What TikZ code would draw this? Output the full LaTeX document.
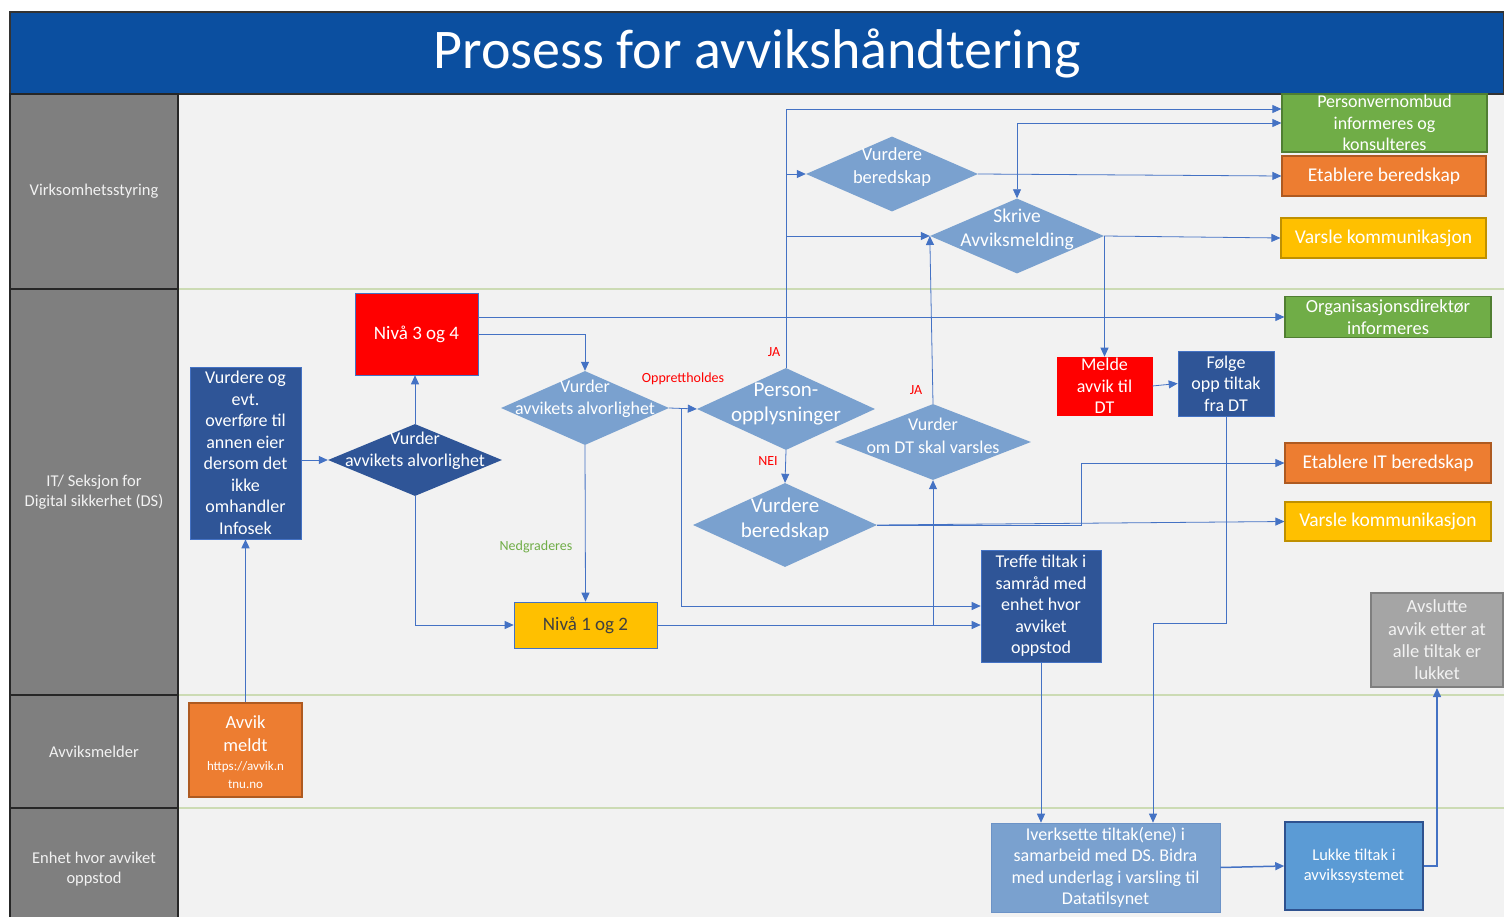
\documentclass[tikz,border=0pt]{standalone}
\usepackage{fontspec}
\setmainfont{Carlito}
\usepackage{xcolor}
\usetikzlibrary{arrows.meta, shapes.geometric}

\definecolor{titleblue}{HTML}{0B4FA0}
\definecolor{lanegrey}{HTML}{7F7F7F}
\definecolor{lanetext}{HTML}{F2F2F2}
\definecolor{lanebg}{HTML}{F2F2F2}
\definecolor{laneline}{HTML}{CCDBB4}
\definecolor{darkblue}{HTML}{2F5597}
\definecolor{lightblue}{HTML}{7AA1CF}
\definecolor{midblue}{HTML}{5B9BD5}
\definecolor{flowblue}{HTML}{4472C4}
\definecolor{boxline}{HTML}{4472C4}
\definecolor{deepline}{HTML}{2F528F}
\definecolor{lightline}{HTML}{6C93C7}
\definecolor{ored}{HTML}{FF0000}
\definecolor{oorange}{HTML}{ED7D31}
\definecolor{orangeline}{HTML}{AE5A21}
\definecolor{oyellow}{HTML}{FFC000}
\definecolor{yellowline}{HTML}{BF9000}
\definecolor{ogreen}{HTML}{70AD47}
\definecolor{greenline}{HTML}{507E32}
\definecolor{ogrey}{HTML}{A5A5A5}
\definecolor{greyline}{HTML}{7F7F7F}
\definecolor{darkgrey}{HTML}{404040}

\newcommand{\fsz}[2]{\fontsize{#1}{#2}\selectfont}

\begin{document}
\begin{tikzpicture}[x=1pt, y=-1pt,
        box/.style={rectangle, draw=boxline, line width=0.6pt, text=white, align=center, inner sep=0pt, font=\fsz{18}{21.5}},
        decision/.style={diamond, fill=lightblue, inner sep=0pt},
        dtext/.style={text=white, align=center, inner sep=0pt, font=\fsz{18}{22}},
        lane/.style={rectangle, draw=black!85, line width=1.2pt, fill=lanegrey, text=lanetext, minimum width=168, align=center, font=\fsz{16.5}{20}},
        flow/.style={draw=flowblue, line width=0.8pt, -{Triangle[length=9pt, width=8pt]}},
        flowboth/.style={draw=flowblue, line width=0.8pt, {Triangle[length=9pt, width=8pt]}-{Triangle[length=9pt, width=8pt]}},
        lbl/.style={font=\fsz{14}{16}, inner sep=0pt}]

        \useasboundingbox (0,0) rectangle (1504,917);
        \fill[lanebg] (178,94) rectangle (1504,917);
        \foreach \ly in {289,695,808}
            \draw[laneline, line width=2.5pt] (178,\ly) -- (1504,\ly);

        \node (title) [rectangle, fill=titleblue, draw=black!80, line width=1.2pt, minimum width=1494, minimum height=82, inner sep=0pt, text=white, font=\fsz{56}{60}] at (757,53) {Prosess for avvikshåndtering};

        \node (lvirk) [lane, minimum height=195] at (94,191.5) {Virksomhetsstyring};
        \node (lit) [lane, minimum height=406] at (94,492) {IT/ Seksjon for\\Digital sikkerhet (DS)};
        \node (lmeld) [lane, minimum height=113] at (94,751.5) {Avviksmelder};
        \node (lenhet) [lane, minimum height=123] at (94,869.5) {Enhet hvor avviket\\oppstod};

        \node (avvik) [box, fill=oorange, draw=orangeline, line width=1.2pt, minimum width=113, minimum height=94] at (245.5,750) {};
        \node (avvikt) [box, draw=none, font=\fsz{18.5}{23}] at ([yshift=-2pt]avvik.center) {Avvik\\meldt\\[-4pt]{\fsz{13}{17}https://avvik.n}\\[-5pt]{\fsz{13}{17}tnu.no}};
        \node (vurdeier) [box, fill=darkblue, minimum width=111, minimum height=172] at (245.5,453) {Vurdere og\\evt.\\overføre til\\annen eier\\dersom det\\ikke\\omhandler\\Infosek};
        \node (niva34) [box, fill=ored, minimum width=123, minimum height=82, font=\fsz{19}{23}] at (416.5,334) {Nivå 3 og 4};
        \node (niva12) [box, fill=oyellow, text=darkgrey, minimum width=143, minimum height=46, font=\fsz{19}{23}] at (585.5,625) {Nivå 1 og 2};
        \node (treffe) [box, fill=darkblue, minimum width=120, minimum height=112] at (1041,606) {Treffe tiltak i\\samråd med\\enhet hvor\\avviket\\oppstod};
        \node (melde) [box, fill=ored, draw=ored, minimum width=95, minimum height=58] at (1104.5,386) {Melde\\avvik til\\DT};
        \node (folge) [box, fill=darkblue, minimum width=96, minimum height=65] at (1226,383.5) {Følge\\opp tiltak\\fra DT};
        \node (pvo) [box, fill=ogreen, draw=greenline, line width=1.2pt, minimum width=205, minimum height=58] at (1384.5,123) {Personvernombud\\informeres og\\konsulteres};
        \node (etab) [box, fill=oorange, draw=orangeline, line width=1.2pt, minimum width=204, minimum height=40, font=\fsz{19.5}{23}] at (1384,176) {Etablere beredskap};
        \node (varsle1) [box, fill=oyellow, draw=yellowline, line width=1.2pt, minimum width=205, minimum height=40, font=\fsz{19.5}{23}] at (1383.5,238) {Varsle kommunikasjon};
        \node (orgdir) [box, fill=ogreen, draw=greenline, line width=1.2pt, minimum width=206, minimum height=41, font=\fsz{18.5}{22}] at (1388,317) {Organisasjonsdirektør\\informeres};
        \node (etabit) [box, fill=oorange, draw=orangeline, line width=1.2pt, minimum width=206, minimum height=40, font=\fsz{19.5}{23}] at (1388,463) {Etablere IT beredskap};
        \node (varsle2) [box, fill=oyellow, draw=yellowline, line width=1.2pt, minimum width=206, minimum height=39, font=\fsz{19.5}{23}] at (1388,521.5) {Varsle kommunikasjon};
        \node (avslutt) [box, fill=ogrey, draw=greyline, line width=2pt, text=lanetext, minimum width=132, minimum height=94, font=\fsz{18.5}{22.4}] at (1437,640) {Avslutte\\avvik etter at\\alle tiltak er\\lukket};
        \node (iverk) [box, fill=lightblue, draw=lightline, minimum width=229, minimum height=89] at (1105.5,867.5) {Iverksette tiltak(ene) i\\samarbeid med DS. Bidra\\med underlag i varsling til\\Datatilsynet};
        \node (lukke) [box, fill=midblue, draw=deepline, line width=1.5pt, minimum width=138, minimum height=88, font=\fsz{16.5}{20}] at (1354,866) {Lukke tiltak i\\avvikssystemet};

        \node (dia1) [decision, fill=darkblue, minimum width=174, minimum height=72] at (415,460) {};
        \node (dia1t) [dtext] at ([yshift=9pt]dia1.center) {Vurder\\avvikets alvorlighet};
        \node (dia2) [decision, minimum width=168, minimum height=74] at (585,408) {};
        \node (dia2t) [dtext] at ([yshift=9pt]dia2.center) {Vurder\\avvikets alvorlighet};
        \node (person) [decision, minimum width=178, minimum height=82] at (786,409) {};
        \node (persont) [dtext, font=\fsz{21}{25}] at ([yshift=5pt]person.center) {Person-\\opplysninger};
        \node (berlow) [decision, minimum width=184, minimum height=84] at (785,525) {};
        \node (berlowt) [dtext, font=\fsz{21}{25}] at ([yshift=6pt]berlow.center) {Vurdere\\beredskap};
        \node (dtvarsle) [decision, minimum width=196, minimum height=76] at (933,442) {};
        \node (dtvarslet) [dtext, font=\fsz{18}{22.5}] at ([yshift=6pt]dtvarsle.center) {Vurder\\om DT skal varsles};
        \node (bertop) [decision, minimum width=172, minimum height=75] at (892,174) {};
        \node (bertopt) [dtext, font=\fsz{18.5}{23}] at ([yshift=7pt]bertop.center) {Vurdere\\beredskap};
        \node (skrive) [decision, minimum width=174, minimum height=75] at (1017,236) {};
        \node (skrivet) [dtext, font=\fsz{19.5}{24}] at ([yshift=7pt]skrive.center) {Skrive\\Avviksmelding};

        \node (lopp) [lbl, text=ored] at (683,379) {Opprettholdes};
        \node (lja1) [lbl, text=ored] at (774,352) {JA};
        \node (lnei) [lbl, text=ored] at (768,461) {NEI};
        \node (lja2) [lbl, text=ored] at (916,390) {JA};
        \node (lned) [lbl, text=ogreen] at (536,547) {Nedgraderes};

        \coordinate (oppsplit) at (681,408);
        \coordinate (jatop) at (786,109);

        \draw[flow, line width=1.5pt] (avvik.north) -- (vurdeier.south);
        \draw[flow] (vurdeier.east |- dia1.west) -- (dia1.west);
        \draw[flow] (dia1.north) -- (dia1.north |- niva34.south);
        \draw[flow] (dia1.south) |- (niva12.west);
        \draw[flow] (niva34.east) -| (dia2.north);
        \draw[flow] (niva34.east |- orgdir.west) -- (orgdir.west);
        \draw[flow] (dia2.south) -- (niva12.north);
        \draw[flow] (dia2.east) -- (person.west);
        \draw[flow] (oppsplit) |- (treffe.west);
        \draw[flow] (person.north) -- (jatop) -- (jatop -| pvo.west);
        \draw[flow] (person.north |- bertop.west) -- (bertop.west);
        \draw[flow] (person.north |- skrive.west) -- (skrive.west);
        \draw[flow] (person.south) -- (berlow.north);
        \draw[flow] (berlow.east) -- ++(204,0) |- (etabit.west);
        \draw[flow] (berlow.east) -- (varsle2.west);
        \draw[flow] (niva12.east) -- (niva12.east -| treffe.west);
        \draw[flow] (niva12.east -| dtvarsle.south) -- (dtvarsle.south);
        \draw[flow] (dtvarsle.north) -- (skrive.west);
        \draw[flow] (bertop.east) -- (etab.west);
        \draw[flowboth] (skrive.north) |- (pvo.west);
        \draw[flow] (skrive.east) -- (varsle1.west);
        \draw[flow] (skrive.east) -| (melde.north);
        \draw[flow] (melde.east) -- (folge.west);
        \draw[flow] (folge.south) -- ++(0,207) -| ([xshift=47.5pt]iverk.north);
        \draw[flow] (treffe.south) -- (treffe.south |- iverk.north);
        \draw[flow, line width=1.5pt] (iverk.east) -- (lukke.west);
        \draw[flow, line width=1.5pt] (lukke.east) -| (avslutt.south);
    \end{tikzpicture}
\end{document}
